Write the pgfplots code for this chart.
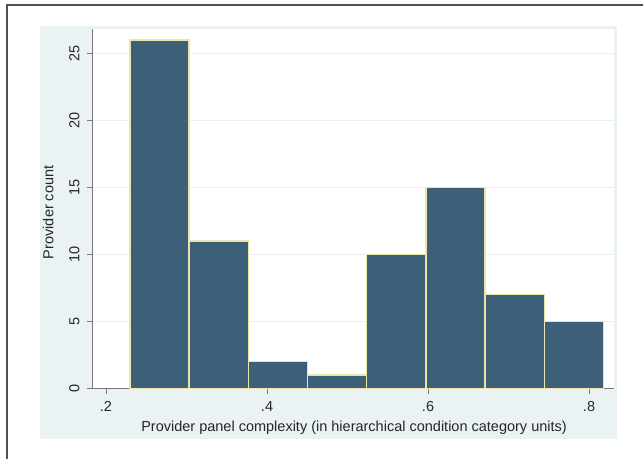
\documentclass[border=0pt]{standalone}
\usepackage{fontspec}
\setmainfont{Liberation Sans}
\usepackage{pgfplots}
\pgfplotsset{compat=1.18}

\definecolor{barfill}{RGB}{62,95,121}
\definecolor{barline}{RGB}{234,229,168}
\definecolor{regionbg}{RGB}{234,242,244}
\definecolor{gridc}{RGB}{230,239,242}
\definecolor{axisc}{RGB}{120,120,120}
\definecolor{framec}{RGB}{80,80,80}

% Histogram bin edges (left edges, last row closes the final bin) and counts
\pgfplotstableread{
x       n
0.2298  26
0.3033  11
0.3768  2
0.4503  1
0.5238  10
0.5973  15
0.6708  7
0.7443  5
0.8178  5
}\bins

\begin{document}
\begin{tikzpicture}[x=1pt,y=1pt]
\useasboundingbox (0,0) rectangle (643,459);
% graph region
\fill[regionbg] (40,20) rectangle (617,433);
\draw[framec, line width=1.8pt] (7,0) -- (7,454) -- (643,454);
\begin{axis}[
  at={(92pt,70.5pt)}, anchor=south west,
  scale only axis, width=522pt, height=359.5pt,
  xmin=0.1826, xmax=0.831, ymin=0, ymax=26.83,
  axis background/.style={fill=white},
  axis lines*=left,
  axis line style={axisc, line width=1pt},
  xtick={0.2,0.4,0.6,0.8}, xticklabels={.2,.4,.6,.8},
  ytick={0,5,10,15,20,25},
  ymajorgrids, grid style={gridc, line width=1.5pt},
  tick align=outside, major tick length=5pt,
  tick style={axisc, line width=1pt},
  /pgf/number format/assume math mode=true,
  tick label style={font=\fontsize{14.5}{16}\selectfont, text=black!85},
  xticklabel style={yshift=-4pt},
  yticklabel style={rotate=90, anchor=south, yshift=4pt},
  label style={font=\fontsize{14.5}{16}\selectfont, text=black!85},
  xlabel={Provider panel complexity (in hierarchical condition category units)},
  ylabel={Provider count},
  xlabel style={at={(axis description cs:0.502,-0.11)}, anchor=center},
  ylabel style={at={(axis description cs:-0.084,0.49)}, anchor=center, rotate=0},
]
\addplot[ybar interval, fill=barfill, draw=barline, line width=1.4pt] table[x=x, y=n] {\bins};
\end{axis}
\end{tikzpicture}
\end{document}
